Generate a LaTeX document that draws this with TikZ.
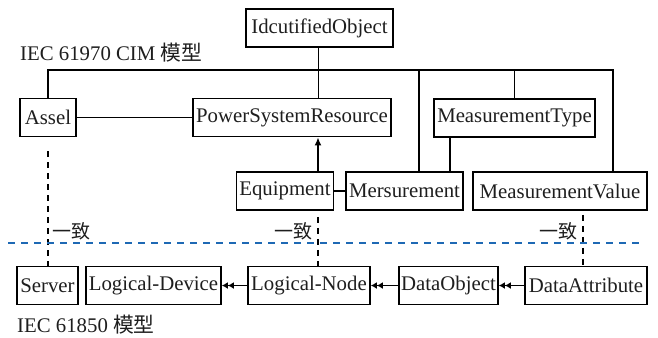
\documentclass[tikz,border=0pt]{standalone}
\usepackage{fontspec}
\setmainfont{Liberation Serif}
\newfontfamily\cjk{Noto Sans CJK SC}
\usetikzlibrary{arrows.meta,calc}
\definecolor{txt}{RGB}{30,30,30}
\definecolor{sepblue}{RGB}{30,105,180}
\begin{document}
\begin{tikzpicture}[x=1bp,y=-1bp,
  every node/.style={font=\fontsize{20.8bp}{24bp}\selectfont, text=txt},
  cls/.style={draw=black, line width=1.8bp, inner sep=0pt, minimum height=38bp},
  link/.style={line width=1.6bp},
  corr/.style={line width=1.6bp, dash pattern=on 6bp off 5bp},
  agg/.style={line width=1.6bp, -{Latex[length=6bp,width=7bp]Latex[length=6bp,width=7bp]}},
  lbl/.style={inner sep=0pt}]
\useasboundingbox (0,0) rectangle (658,337);
% top model
\node[cls, minimum width=147bp] (IO) at (319.5,28) {IdcutifiedObject};
\node[lbl, anchor=west] (t1) at (20,53) {IEC 61970 CIM {\cjk 模型}};
\node[cls, minimum width=56bp] (AS) at (48,117.5) {Assel};
\node[cls, minimum width=198bp] (PSR) at (292,117.5) {PowerSystemResource};
\node[cls, minimum width=161bp] (MT) at (514.5,118) {MeasurementType};
\node[cls, minimum width=97bp] (EQ) at (285,191) {Equipment};
\node[cls, minimum width=117bp] (ME) at (404.5,191) {Mersurement};
\node[cls, minimum width=174bp] (MV) at (560,191) {MeasurementValue};
% bottom model
\node[cls, minimum width=61bp] (SV) at (47.5,285.5) {Server};
\node[cls, minimum width=135bp] (LD) at (153.5,285.5) {Logical-Device};
\node[cls, minimum width=122bp] (LN) at (309,285.5) {Logical-Node};
\node[cls, minimum width=99bp] (DO) at (448.5,285.5) {DataObject};
\node[cls, minimum width=122bp] (DA) at (586,285.5) {DataAttribute};
\node[lbl, anchor=west] (t2) at (17,325) {IEC 61850 {\cjk 模型}};
% bus line
\coordinate (busL) at (48,70);
\coordinate (busR) at (613,70);
\coordinate (xIO) at (318.5,0);
\coordinate (xME) at (419,0);
\coordinate (xMT) at (450,0);
\coordinate (xMTt) at (514.5,0);
\coordinate (xEQ) at (318,0);
\coordinate (xMV) at (583,0);
\draw[link] (AS.north) -- (busL) -- (busR) -- (MV.north -| busR);
\draw[link] (IO.south -| xIO) -- (PSR.north -| xIO);
\draw[link] (busL -| xME) -- (ME.north -| xME);
\draw[link] (busL -| xMTt) -- (MT.north -| xMTt);
\draw[link] (MT.south -| xMT) -- (ME.north -| xMT);
\draw[link] (AS.east) -- (PSR.west);
\draw[link] (EQ.east) -- (ME.west);
\draw[link, -{Latex[length=8bp,width=7bp]}] (EQ.north -| xEQ) -- (PSR.south -| xEQ);
% aggregation arrows
\draw[agg] (LN.west) -- (LD.east);
\draw[agg] (DO.west) -- (LN.east);
\draw[agg] (DA.west) -- (DO.east);
% correspondence lines
\draw[corr] ($(AS.south)+(0,14)$) -- (SV.north -| AS.south);
\draw[corr] ($(EQ.south -| xEQ)+(0,6)$) -- (LN.north -| xEQ);
\draw[corr] ($(MV.south -| xMV)+(0,4)$) -- (DA.north -| xMV);
% separator
\coordinate (sepL) at (8,243);
\coordinate (sepR) at (640,243);
\draw[sepblue, line width=1.6bp, dash pattern=on 7bp off 6bp] (sepL) -- (sepR);
% labels
\node[lbl, anchor=west, font=\cjk\fontsize{19bp}{22bp}\selectfont] (c1) at (52,231) {一致};
\node[lbl, anchor=east, font=\cjk\fontsize{19bp}{22bp}\selectfont] (c2) at (313,231) {一致};
\node[lbl, anchor=east, font=\cjk\fontsize{19bp}{22bp}\selectfont] (c3) at (578,231) {一致};
\end{tikzpicture}
\end{document}
